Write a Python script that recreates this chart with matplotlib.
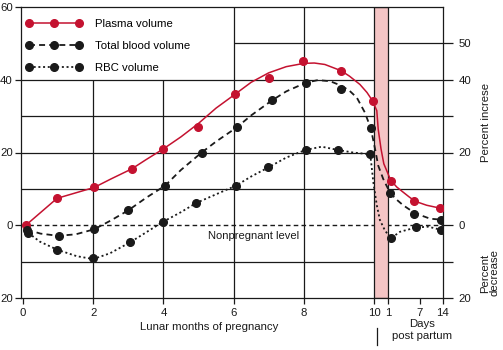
import numpy as np
import matplotlib
matplotlib.use("Agg")
import matplotlib.pyplot as plt
from matplotlib.lines import Line2D

plt.rcParams['font.family'] = ['Liberation Sans', 'DejaVu Sans']
plt.rcParams['font.size'] = 8

RED = '#c41230'
INK = '#1a1a1a'
PINK = '#f4c5c5'

# postpartum days -> position on the x axis (right of the delivery band)
DAY_TICKS = [1, 7, 14]
DAY_POS = [10.41, 11.31, 11.96]


def pp(days):
    return np.interp(days, DAY_TICKS, DAY_POS)


# measured points, pregnancy part (lunar months)
plasma_m = [0.08, 0.97, 2.03, 3.10, 4.00, 4.99, 6.04, 7.02, 7.97, 9.06, 9.96]
plasma = [0, 7.4, 10.4, 15.5, 21.0, 27.0, 36.0, 40.5, 45.1, 42.5, 34.2]
blood_m = [0.11, 1.03, 2.03, 3.0, 4.05, 5.09, 6.09, 7.09, 8.06, 9.06, 9.91]
blood = [-1.2, -3.0, -1.1, 4.1, 10.9, 20.0, 26.9, 34.3, 39.2, 37.5, 26.6]
rbc_m = [0.15, 0.97, 2.0, 3.05, 3.98, 4.93, 6.07, 6.99, 8.05, 8.97, 9.89]
rbc = [-2.1, -6.7, -9.1, -4.7, 0.9, 6.1, 10.9, 15.9, 20.7, 20.7, 19.5]

# measured points, post partum (days)
plasma_d = [1.47, 5.9, 13.1]
plasma_pp = [12.3, 6.6, 4.75]
blood_d = [1.33, 5.9, 13.6]
blood_pp = [8.85, 3.2, 1.55]
rbc_d = [1.47, 6.3, 13.4]
rbc_pp = [-3.6, -0.6, -1.2]

# fitted curves (x in axis position units)
plasma_cx = [0.08, 0.97, 2.03, 2.5, 3.10, 3.5, 4.0, 4.5, 5.0, 5.5, 6.04, 6.5, 7.0, 7.5,
             8.0, 8.3, 8.6, 9.06, 9.3, 9.6, 9.8, 9.96, 10.08, 10.12, 10.20, 10.28,
             10.38, 10.48, 10.65, 10.83, 11.0, 11.17, 11.5, 11.86]
plasma_cy = [0, 7.4, 10.4, 12.7, 15.5, 18.0, 21.0, 24.3, 28.0, 32.2, 36.0, 39.3, 41.9, 43.6,
             44.5, 44.6, 44.2, 42.5, 41.0, 38.7, 36.5, 34.2, 31.5, 26.4, 21.0, 16.9,
             14.6, 12.3, 10.5, 9.1, 7.8, 6.6, 5.5, 4.75]
blood_cx = [0.11, 0.5, 1.0, 1.5, 2.03, 2.5, 3.0, 3.5, 4.05, 4.5, 5.09, 5.5, 6.09, 6.5,
            7.09, 7.5, 8.06, 8.4, 8.75, 9.06, 9.3, 9.51, 9.74, 9.91, 10.03, 10.12,
            10.26, 10.46, 10.65, 10.83, 11.0, 11.17, 11.4, 11.6, 11.90]
blood_cy = [-1.2, -2.3, -2.9, -2.5, -1.1, 1.3, 4.1, 7.5, 10.9, 15.2, 20.0, 23.0, 26.9, 30.2,
            34.3, 36.8, 39.2, 39.9, 39.6, 38.4, 37.0, 35.1, 31.0, 26.6, 21.0, 16.4,
            12.8, 8.85, 7.0, 5.5, 4.4, 3.4, 2.5, 1.8, 1.55]
rbc_cx = [0.15, 0.48, 0.97, 1.53, 2.0, 2.48, 3.05, 3.5, 3.98, 4.5, 4.93, 5.5, 6.07, 6.5,
          6.99, 7.5, 8.05, 8.51, 8.97, 9.4, 9.89, 9.93, 9.98, 10.08, 10.17, 10.31,
          10.41, 10.48, 10.74, 11.2, 11.55, 11.88]
rbc_cy = [-2.1, -4.5, -6.7, -8.5, -9.3, -7.7, -4.7, -2.0, 0.9, 3.6, 6.1, 8.5, 10.9, 13.4,
          15.9, 18.6, 20.7, 21.6, 20.7, 20.0, 19.5, 16.4, 11.9, 5.5, 1.4, -1.4,
          -2.7, -3.6, -1.8, -0.6, -0.4, -1.2]

DASH = (0, (3.3, 2.3))
DOT = (0, (1.1, 1.5))

fig = plt.figure(figsize=(5.03, 3.5), dpi=100)
ax = fig.add_axes([21 / 503, 1 - 298 / 350, 422 / 503, 291 / 350])
ax.set_xlim(-0.057, 11.966)
ax.set_ylim(-20, 60)

# grid, drawn by hand because the legend area is left empty
x0, x1 = ax.get_xlim()
gkw = dict(color=INK, lw=0.9, zorder=1)
ax.hlines([40, 30, 20, 10, -10], x0, x1, **gkw)
ax.hlines(50, 6, x1, **gkw)
ax.vlines([2, 4], -20, 40, **gkw)
ax.vlines([6, 8], -20, 60, **gkw)
ax.axhline(0, color=INK, lw=1.0, ls=DASH, zorder=1)
ax.axvspan(10, 10.41, facecolor=PINK, edgecolor=INK, lw=0.9, zorder=2)

# curves
ax.plot(plasma_cx, plasma_cy, color=RED, lw=1.1, zorder=3)
ax.plot(blood_cx, blood_cy, color=INK, lw=1.3, ls=DASH, zorder=3)
ax.plot(rbc_cx, rbc_cy, color=INK, lw=1.3, ls=DOT, zorder=3)

# measured dots
ax.plot(list(plasma_m) + list(pp(plasma_d)), plasma + plasma_pp, 'o', color=RED, ms=5.5, zorder=4)
ax.plot(list(blood_m) + list(pp(blood_d)), blood + blood_pp, 'o', color=INK, ms=5.5, zorder=4)
ax.plot(list(rbc_m) + list(pp(rbc_d)), rbc + rbc_pp, 'o', color=INK, ms=5.5, zorder=4)

ax.text(6.58, -3.0, 'Nonpregnant level', ha='center', va='center', color=INK)

handles = [Line2D([], [], color=RED, lw=1.1, marker='o', ms=5.5),
           Line2D([], [], color=INK, lw=1.3, ls=DASH, marker='o', ms=5.5),
           Line2D([], [], color=INK, lw=1.3, ls=DOT, marker='o', ms=5.5)]
ax.legend(handles, ['Plasma volume', 'Total blood volume', 'RBC volume'],
          loc='upper left', bbox_to_anchor=(4.7 / 422, 1 - 12 / 291), frameon=False,
          numpoints=3, handlelength=5.0, handletextpad=1.05, labelspacing=1.05,
          borderaxespad=0, borderpad=0, fontsize=8.2)

# axes frame and ticks
for s in ax.spines.values():
    s.set_color(INK)
    s.set_linewidth(0.9)
ax.set_yticks([60, 40, 20, 0, -20])
ax.set_yticklabels(['60', '40', '20', '0', '20'])
ax.set_xticks([0, 2, 4, 6, 8, 10] + list(pp(DAY_TICKS)))
ax.set_xticklabels(['0', '2', '4', '6', '8', '10', '1', '7', '14'])
ax.tick_params(axis='both', length=4, width=0.9, color=INK, labelcolor=INK, labelsize=8.2, pad=2)
ax.tick_params(axis='x', pad=3.5)

ax2 = ax.twinx()
ax2.set_ylim(ax.get_ylim())
ax2.set_yticks([50, 40, 30, 20, 10, 0, -10, -20])
ax2.set_yticklabels(['50', '40', '', '20', '', '0', '', '20'])
ax2.tick_params(axis='y', length=7, width=0.9, color=INK, labelcolor=INK, labelsize=8.2, pad=4)
for s in ax2.spines.values():
    s.set_visible(False)

fig.text(209 / 503, 1 - 327 / 350, 'Lunar months of pregnancy', ha='center', va='center',
         fontsize=8.2, color=INK)
fig.text(422 / 503, 1 - 330 / 350, 'Days\npost partum', ha='center', va='center',
         linespacing=1.3, fontsize=8.2, color=INK)
fig.text(486 / 503, 1 - 122 / 350, 'Percent increse', rotation=90, ha='center', va='center',
         fontsize=8.2, color=INK)
fig.text(490 / 503, 1 - 273 / 350, 'Percent\ndecrease', rotation=90, ha='center', va='center',
         multialignment='center', linespacing=1.0, fontsize=8.2, color=INK)
fig.add_artist(Line2D([377 / 503, 377 / 503], [1 - 328 / 350, 1 - 345 / 350], color=INK, lw=0.9))

fig.savefig('out.png', dpi=100)
